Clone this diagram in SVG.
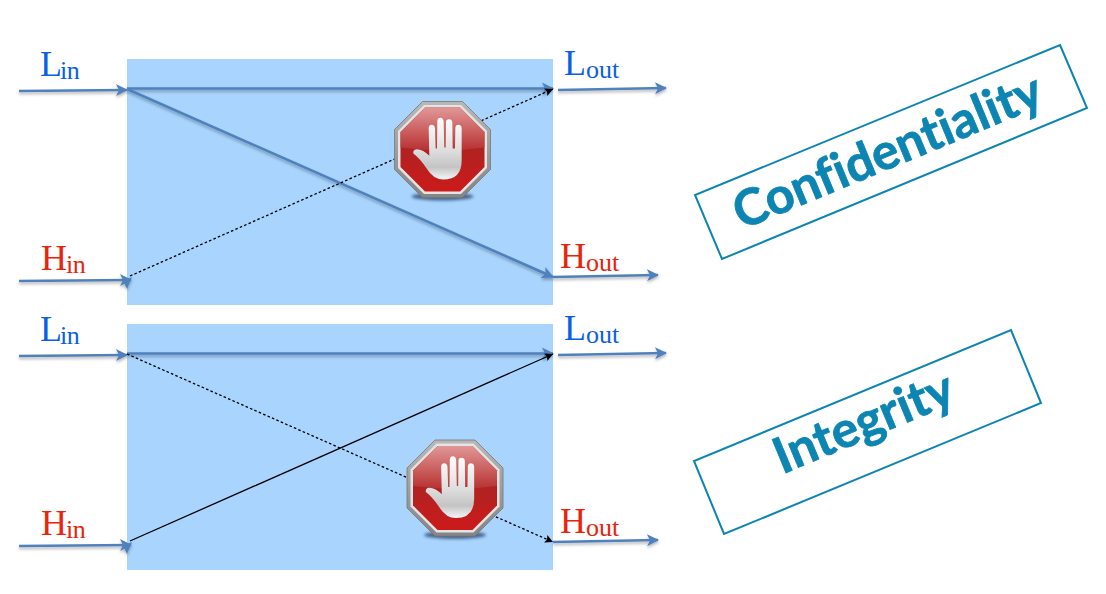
<svg xmlns="http://www.w3.org/2000/svg" xmlns:xlink="http://www.w3.org/1999/xlink" width="1106" height="594" viewBox="0 0 1106 594">
<style>
.panel{fill:#a8d4fe}
.blue{fill:none;stroke:#4f81bd;stroke-width:2.6;marker-end:url(#bh)}
.black{fill:none;stroke:#000;stroke-width:1.3;marker-end:url(#kh)}
.dot{stroke-dasharray:2.6 2.2}
.lab{font-family:"Liberation Serif",serif;font-size:36px}
.lab tspan{font-size:26px}
.in{letter-spacing:-.5px}
.l{fill:#0a5fe4}.h{fill:#e8240c}
.box{fill:#fff;stroke:#0c85b2;stroke-width:2}
.cap{font-family:Lato,"Open Sans",sans-serif;font-weight:700;font-size:50px;font-variant-ligatures:none;fill:#0c85b2;stroke:#0c85b2;stroke-width:.8;text-anchor:middle}
</style>
<defs>
<marker id="bh" markerUnits="userSpaceOnUse" markerWidth="12" markerHeight="13" refX="11" refY="6.500" viewBox="0 0 12 13" orient="auto" overflow="visible"><path d="M0,0.5L12,6.500L0,12.500L3,6.500Z" fill="#4f81bd"/></marker>
<marker id="kh" markerUnits="userSpaceOnUse" markerWidth="8" markerHeight="8" refX="8" refY="4" viewBox="0 0 8 8" orient="auto" overflow="visible"><path d="M0,0L8,4L0,8L1.5,4Z" fill="#000"/></marker>
<filter id="sh" filterUnits="userSpaceOnUse" x="0" y="0" width="1106" height="594"><feDropShadow dx="0" dy="2" stdDeviation="1.5" flood-color="#000" flood-opacity=".3"/></filter>
<filter id="bl" x="-30%" y="-100%" width="160%" height="300%"><feGaussianBlur stdDeviation="1.6"/></filter>
<linearGradient id="red" x1="0" y1="0" x2="0" y2="1"><stop offset="0" stop-color="#a82020"/><stop offset=".5" stop-color="#b02222"/><stop offset="1" stop-color="#cc1a1a"/></linearGradient>
<linearGradient id="gloss" x1="0" y1="0" x2="0" y2="1"><stop offset="0" stop-color="#e8a4a4"/><stop offset="1" stop-color="#b83232"/></linearGradient>
<linearGradient id="rim" x1="0" y1="0" x2="0" y2="1"><stop offset="0" stop-color="#b8b8b8"/><stop offset="1" stop-color="#858585"/></linearGradient>
<linearGradient id="hand" x1="0" y1="0" x2="0" y2="1"><stop offset="0" stop-color="#fff"/><stop offset=".55" stop-color="#dcdcdc"/><stop offset=".8" stop-color="#c4c4c4"/><stop offset="1" stop-color="#f6f6f6"/></linearGradient>
<g id="stop">
<ellipse cx="0" cy="47" rx="31" ry="4" fill="#2b3f66" opacity=".75" filter="url(#bl)"/>
<polygon points="-20,-48 20,-48 48,-20 48,20 20,48 -20,48 -48,20 -48,-20" fill="url(#rim)" stroke="#777" stroke-width=".8"/>
<polygon points="-18.500,-44.500 18.500,-44.500 44.500,-18.500 44.500,18.500 18.500,44.500 -18.500,44.500 -44.500,18.500 -44.500,-18.500" fill="#e4e4e4"/>
<polygon points="-17.500,-42 17.500,-42 42,-17.500 42,17.500 17.500,42 -17.500,42 -42,17.500 -42,-17.500" fill="url(#red)"/>
<path d="M-17.500,-42H17.500L42,-17.500V-2Q0,4-42,-2V-17.500Z" fill="url(#gloss)" opacity=".9"/>
<path transform="translate(-62.500,-59.300) scale(.3333)" fill="url(#hand)" d="M146 115Q146 104 155 104Q164 104 165 115L167 175L171 175L172 95Q172 83 181 83Q190 83 191 95L193 172L197 172L198 97Q198 87 207 87Q216 87 217 97L218 175L225 175L226 115Q226 104 235 104Q245 104 245 115L245 210Q245 268 190 268Q160 268 140 235Q120 205 100 190Q98 178 110 177Q130 178 148 197Z"/>
</g>
</defs>
<rect width="1106" height="594" fill="#fff"/>
<g id="panel-top"><rect class="panel" x="127" y="59" width="426" height="246"/></g>
<g id="panel-bottom"><rect class="panel" x="127" y="324" width="426" height="246"/></g>
<g id="connectors">
<g filter="url(#sh)">
<path class="blue" d="M19,91L127,90"/>
<path class="blue" d="M127,88.500L553,88.500"/>
<path class="blue" d="M127,89L553,277"/>
<path class="blue" d="M558,90L666,88"/>
<path class="blue" d="M19,281L131,280"/>
<path class="blue" d="M553,277L658,275"/>
<path class="blue" d="M19,356L127,355"/>
<path class="blue" d="M127,353.500L553,353.500"/>
<path class="blue" d="M558,355L666,353"/>
<path class="blue" d="M19,546L131,545"/>
<path class="blue" d="M553,542L658,540"/>
<polygon points="123,281 132,277 127,289" fill="#4f81bd"/>
<polygon points="123,546 132,542 127,554" fill="#4f81bd"/>
</g>
<path class="black dot" d="M130,276L553,89"/>
<path class="black" d="M130,541L553,354"/>
<path class="black dot" d="M127,354L553,542"/>
</g>
<g id="stop-top"><use href="#stop" xlink:href="#stop" x="442.500" y="149.500"/></g>
<g id="stop-bottom"><use href="#stop" xlink:href="#stop" x="455" y="488"/></g>
<g id="l-in-top"><text class="lab l" x="40" y="76">L<tspan class="in" dx="-2" dy="3">in</tspan></text></g>
<g id="l-out-top"><text class="lab l" x="564" y="75">L<tspan dy="2.500">out</tspan></text></g>
<g id="h-in-top"><text class="lab h" x="41" y="270">H<tspan class="in" dx="-1" dy="2.500">in</tspan></text></g>
<g id="h-out-top"><text class="lab h" x="560" y="268">H<tspan dy="3">out</tspan></text></g>
<g id="l-in-bottom"><text class="lab l" x="40" y="341">L<tspan class="in" dx="-2" dy="3">in</tspan></text></g>
<g id="l-out-bottom"><text class="lab l" x="564" y="340">L<tspan dy="2.500">out</tspan></text></g>
<g id="h-in-bottom"><text class="lab h" x="41" y="535">H<tspan class="in" dx="-1" dy="2.500">in</tspan></text></g>
<g id="h-out-bottom"><text class="lab h" x="560" y="533">H<tspan dy="3">out</tspan></text></g>
<g id="confidentiality">
<polygon class="box" points="1060,45 1087,108 722,259 695,195"/>
<text class="cap" transform="translate(894,167) rotate(-22.500)">Confidentiality</text>
</g>
<g id="integrity">
<polygon class="box" points="1011,330 1041,403 724,534 694,461"/>
<text class="cap" transform="translate(870,438) rotate(-22.500)">Integrity</text>
</g>
</svg>
